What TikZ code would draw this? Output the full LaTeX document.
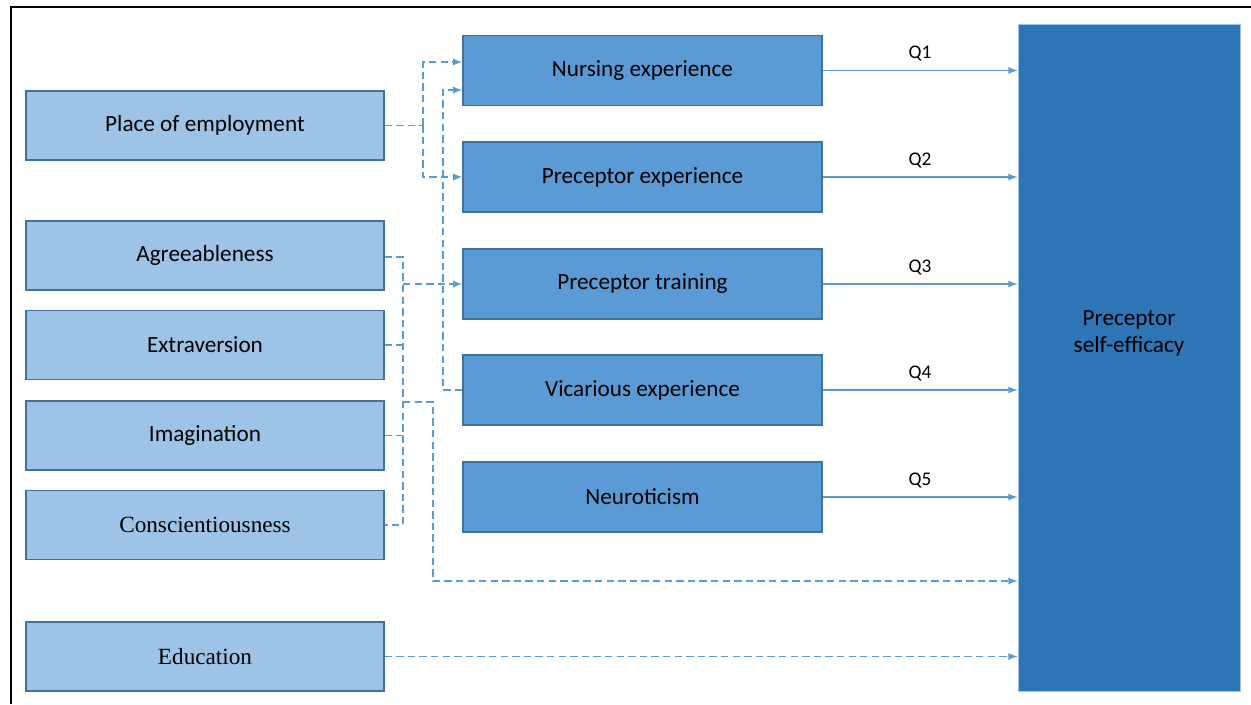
\documentclass[tikz,border=0pt]{standalone}
\usepackage{fontspec}
\setmainfont{Carlito}
\newfontfamily\timesfont{Liberation Serif}
\usepackage{tikz}
\usetikzlibrary{arrows,calc}
\definecolor{lightblue}{HTML}{9DC3E6}
\definecolor{midblue}{HTML}{5B9BD5}
\definecolor{darkblue}{HTML}{2E75B6}
\definecolor{edgeblue}{HTML}{41719C}
\tikzset{
	leftnode/.style={rectangle, draw=edgeblue, fill=lightblue, line width=0.8pt, minimum width=7.16cm, minimum height=1.38cm, font=\fontsize{13.2}{16}\selectfont},
	midnode/.style={rectangle, draw=edgeblue, fill=midblue, line width=0.8pt, minimum width=7.18cm, minimum height=1.4cm, font=\fontsize{13.2}{16}\selectfont},
	bignode/.style={rectangle, draw=lightblue, fill=darkblue, line width=0.5pt, minimum width=4.44cm, minimum height=13.34cm},
	dline/.style={midblue, line width=0.8pt, dash pattern=on 4.2pt off 2.4pt},
	qline/.style={midblue, line width=0.8pt},
	qlabel/.style={midway, above=1.5pt, text=black, font=\fontsize{11}{13}\selectfont}
}

\begin{document}
\begin{tikzpicture}[x=0.02cm, y=-0.02cm, >=latex]
			\useasboundingbox (0,0) rectangle (1251,704);
			\draw [line width=1.2pt] (11,704) -- (11,7) -- (1251,7);

			\node[leftnode] (place) at (205,125.5) {Place of employment};
			\node[leftnode] (agree) at (205,255.5) {Agreeableness};
			\node[leftnode] (extra) at (205,345) {Extraversion};
			\node[leftnode] (imag) at (205,435.5) {Imagination};
			\node[leftnode] (consc) at (205,525) {\timesfont Conscientiousness};
			\node[leftnode] (edu) at (205,656.5) {\timesfont Education};

			\node[midnode] (nurse) at (642.5,70.5) {Nursing experience};
			\node[midnode] (prexp) at (642.5,177) {Preceptor experience};
			\node[midnode] (prtrain) at (642.5,284) {Preceptor training};
			\node[midnode] (vicar) at (642.5,390) {Vicarious experience};
			\node[midnode] (neuro) at (642.5,497) {Neuroticism};

			\node[bignode] (eff) at (1129,357.5) {};
			\node[align=center, font=\fontsize{13.2}{15.3}\selectfont] (efftext) at (1129,333) {Preceptor\\self-efficacy};

			\draw[qline,->] (nurse.east) -- (nurse.east -| eff.west) node[qlabel] {Q1};
			\draw[qline,->] (prexp.east) -- (prexp.east -| eff.west) node[qlabel] {Q2};
			\draw[qline,->] (prtrain.east) -- (prtrain.east -| eff.west) node[qlabel] {Q3};
			\draw[qline,->] (vicar.east) -- (vicar.east -| eff.west) node[qlabel] {Q4};
			\draw[qline,->] (neuro.east) -- (neuro.east -| eff.west) node[qlabel] {Q5};

			\coordinate (p1) at (423,62);
			\coordinate (p2) at (423,177);
			\draw[dline] (place.east) -- (place.east -| p1);
			\draw[dline,->] (place.east -| p1) -- (p1) -- (p1 -| nurse.west);
			\draw[dline,->] (place.east -| p1) -- (p2) -- (prexp.west);

			\coordinate (v1) at (443,90);
			\draw[dline,->] (vicar.west) -| (v1) -- (v1 -| nurse.west);

			\coordinate (bt) at (403,257);
			\draw[dline] (agree.east |- bt) -- (bt) -- (bt |- consc.east) -- (consc.east);
			\draw[dline] (extra.east) -- (extra.east -| bt);
			\draw[dline] (imag.east) -- (imag.east -| bt);
			\draw[dline,->] (bt |- prtrain.west) -- (prtrain.west);

			\coordinate (b2) at (433,402);
			\coordinate (b3) at (433,581);
			\draw[dline,->] (bt |- b2) -- (b2) -- (b3) -- (b3 -| eff.west);
			\draw[dline,->] (edu.east) -- (edu.east -| eff.west);
		\end{tikzpicture}
\end{document}
